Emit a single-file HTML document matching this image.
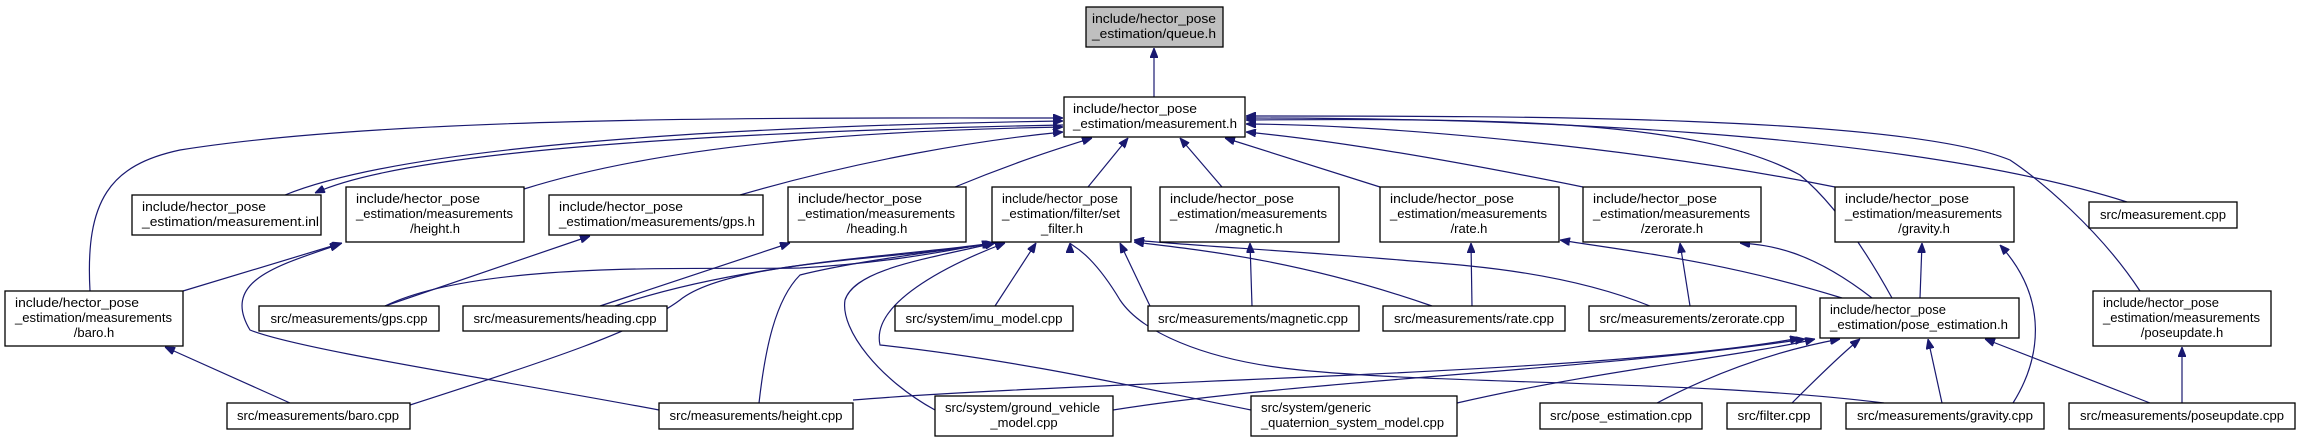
<!DOCTYPE html>
<html><head><meta charset="utf-8"><style>
html,body{margin:0;padding:0;background:#fff}
svg{display:block}
text{font-family:"Liberation Sans",sans-serif;font-size:13px;fill:#000}
.n{fill:#fff;stroke:#000;stroke-width:1.3}
.e{fill:none;stroke:#191970;stroke-width:1.2;marker-end:url(#a)}
</style></head><body>
<svg width="2301" height="443" viewBox="0 0 2301 443" xmlns="http://www.w3.org/2000/svg">
<defs><marker id="a" viewBox="0 0 10 8" refX="10" refY="4" markerWidth="10" markerHeight="8" markerUnits="userSpaceOnUse" orient="auto"><path d="M0,0L10,4L0,8z" fill="#191970" stroke="#191970"/></marker></defs>

<path class="e" d="M1154,97 L1154,48"/>
<path class="e" d="M90,291 C85,200 110,165 180,150 C400,115 800,118 1063,118"/>
<path class="e" d="M285,195 C420,140 800,125 1063,121"/>
<path class="e" d="M1063,125 C800,130 420,145 315,193"/>
<path class="e" d="M524,189 C680,140 900,130 1063,127"/>
<path class="e" d="M740,195 C860,160 980,140 1063,132"/>
<path class="e" d="M955,187 C1020,160 1070,145 1092,138"/>
<path class="e" d="M1088,187 L1128,138"/>
<path class="e" d="M1222,187 L1180,138"/>
<path class="e" d="M1380,187 L1225,138"/>
<path class="e" d="M1583,187 C1450,160 1330,140 1246,132"/>
<path class="e" d="M1835,187 C1650,150 1400,125 1246,124"/>
<path class="e" d="M2127,202 C1900,130 1500,118 1246,118"/>
<path class="e" d="M1892,298 C1860,240 1830,200 1800,175 C1700,120 1500,118 1246,120"/>
<path class="e" d="M2140,291 C2100,230 2040,180 2010,160 C1900,115 1500,116 1246,116"/>

<path class="e" d="M385,306 C480,260 700,270 800,268 C900,262 960,248 992,243"/>
<path class="e" d="M615,306 C750,260 920,255 992,243"/>
<path class="e" d="M410,405 C550,360 640,330 680,300 C730,260 900,260 993,243"/>
<path class="e" d="M759,403 C765,350 775,300 800,275 C860,260 950,250 995,243"/>
<path class="e" d="M935,410 C880,380 840,330 845,300 C855,270 920,260 995,243"/>
<path class="e" d="M995,306 L1036,243"/>
<path class="e" d="M1150,306 L1120,243"/>
<path class="e" d="M1432,306 C1300,260 1200,250 1134,242"/>
<path class="e" d="M1650,306 C1560,270 1460,265 1400,260 C1280,250 1180,245 1134,240"/>
<path class="e" d="M1251,410 C1150,390 1020,360 880,345 C870,300 960,260 1005,243"/>
<path class="e" d="M1884,403 C1700,380 1450,385 1300,370 C1200,360 1140,330 1120,300 C1090,250 1070,245 1070,243"/>

<path class="e" d="M183,291 L342,243"/>
<path class="e" d="M659,410 C500,380 300,350 250,330 C220,280 280,265 340,244"/>
<path class="e" d="M385,306 L590,236"/>
<path class="e" d="M600,306 L790,243"/>
<path class="e" d="M1252,306 L1250,243"/>
<path class="e" d="M1472,306 L1471,243"/>
<path class="e" d="M1690,306 L1680,243"/>
<path class="e" d="M1872,298 C1810,250 1770,245 1740,243"/>
<path class="e" d="M1842,298 C1720,260 1620,250 1560,240"/>
<path class="e" d="M1920,298 L1922,243"/>
<path class="e" d="M2013,403 C2040,360 2050,300 2000,245"/>
<path class="e" d="M2182,403 L2182,347"/>
<path class="e" d="M290,403 L165,347"/>

<path class="e" d="M853,400 C1100,380 1600,375 1800,338"/>
<path class="e" d="M1113,410 C1300,380 1600,370 1805,339"/>
<path class="e" d="M1457,403 C1600,370 1750,355 1815,339"/>
<path class="e" d="M1657,403 C1720,370 1780,350 1840,339"/>
<path class="e" d="M1792,403 C1810,385 1840,355 1860,339"/>
<path class="e" d="M1942,403 L1928,339"/>
<path class="e" d="M2150,403 L1985,339"/>

<rect x="1086" y="7" width="137" height="40" fill="#bfbfbf" stroke="#000" stroke-width="1.3"/>
<text x="1092" y="23" textLength="124" lengthAdjust="spacingAndGlyphs">include/hector_pose</text>
<text x="1092" y="38" textLength="124" lengthAdjust="spacingAndGlyphs">_estimation/queue.h</text>

<rect class="n" x="1064" y="97" width="181" height="40"/>
<text x="1073" y="113" textLength="124" lengthAdjust="spacingAndGlyphs">include/hector_pose</text>
<text x="1073" y="128" textLength="164" lengthAdjust="spacingAndGlyphs">_estimation/measurement.h</text>

<rect class="n" x="132" y="195" width="189" height="40"/>
<text x="142" y="211" textLength="124" lengthAdjust="spacingAndGlyphs">include/hector_pose</text>
<text x="142" y="226" textLength="177" lengthAdjust="spacingAndGlyphs">_estimation/measurement.inl</text>

<rect class="n" x="346" y="187" width="178" height="55"/>
<text x="356" y="203" textLength="124" lengthAdjust="spacingAndGlyphs">include/hector_pose</text>
<text x="356" y="218" textLength="157" lengthAdjust="spacingAndGlyphs">_estimation/measurements</text>
<text x="435" y="233" text-anchor="middle">/height.h</text>

<rect class="n" x="549" y="195" width="214" height="40"/>
<text x="559" y="211" textLength="124" lengthAdjust="spacingAndGlyphs">include/hector_pose</text>
<text x="559" y="226" textLength="196" lengthAdjust="spacingAndGlyphs">_estimation/measurements/gps.h</text>

<rect class="n" x="788" y="187" width="178" height="55"/>
<text x="798" y="203" textLength="124" lengthAdjust="spacingAndGlyphs">include/hector_pose</text>
<text x="798" y="218" textLength="157" lengthAdjust="spacingAndGlyphs">_estimation/measurements</text>
<text x="877" y="233" text-anchor="middle">/heading.h</text>

<rect class="n" x="992" y="187" width="139" height="55"/>
<text x="1002" y="203" textLength="116" lengthAdjust="spacingAndGlyphs">include/hector_pose</text>
<text x="1002" y="218" textLength="118" lengthAdjust="spacingAndGlyphs">_estimation/filter/set</text>
<text x="1062" y="233" text-anchor="middle">_filter.h</text>

<rect class="n" x="1160" y="187" width="179" height="55"/>
<text x="1170" y="203" textLength="124" lengthAdjust="spacingAndGlyphs">include/hector_pose</text>
<text x="1170" y="218" textLength="157" lengthAdjust="spacingAndGlyphs">_estimation/measurements</text>
<text x="1249" y="233" text-anchor="middle">/magnetic.h</text>

<rect class="n" x="1380" y="187" width="179" height="55"/>
<text x="1390" y="203" textLength="124" lengthAdjust="spacingAndGlyphs">include/hector_pose</text>
<text x="1390" y="218" textLength="157" lengthAdjust="spacingAndGlyphs">_estimation/measurements</text>
<text x="1469" y="233" text-anchor="middle">/rate.h</text>

<rect class="n" x="1583" y="187" width="178" height="55"/>
<text x="1593" y="203" textLength="124" lengthAdjust="spacingAndGlyphs">include/hector_pose</text>
<text x="1593" y="218" textLength="157" lengthAdjust="spacingAndGlyphs">_estimation/measurements</text>
<text x="1672" y="233" text-anchor="middle">/zerorate.h</text>

<rect class="n" x="1835" y="187" width="179" height="55"/>
<text x="1845" y="203" textLength="124" lengthAdjust="spacingAndGlyphs">include/hector_pose</text>
<text x="1845" y="218" textLength="157" lengthAdjust="spacingAndGlyphs">_estimation/measurements</text>
<text x="1924" y="233" text-anchor="middle">/gravity.h</text>

<rect class="n" x="2089" y="202" width="148" height="26"/>
<text x="2163" y="219" text-anchor="middle" textLength="126" lengthAdjust="spacingAndGlyphs">src/measurement.cpp</text>

<rect class="n" x="5" y="291" width="178" height="55"/>
<text x="15" y="307" textLength="124" lengthAdjust="spacingAndGlyphs">include/hector_pose</text>
<text x="15" y="322" textLength="157" lengthAdjust="spacingAndGlyphs">_estimation/measurements</text>
<text x="94" y="337" text-anchor="middle">/baro.h</text>

<rect class="n" x="259" y="306" width="180" height="25"/>
<text x="349" y="323" text-anchor="middle" textLength="157" lengthAdjust="spacingAndGlyphs">src/measurements/gps.cpp</text>
<rect class="n" x="463" y="306" width="204" height="25"/>
<text x="565" y="323" text-anchor="middle" textLength="183" lengthAdjust="spacingAndGlyphs">src/measurements/heading.cpp</text>
<rect class="n" x="895" y="306" width="178" height="25"/>
<text x="984" y="323" text-anchor="middle" textLength="157" lengthAdjust="spacingAndGlyphs">src/system/imu_model.cpp</text>
<rect class="n" x="1148" y="306" width="211" height="25"/>
<text x="1253" y="323" text-anchor="middle" textLength="190" lengthAdjust="spacingAndGlyphs">src/measurements/magnetic.cpp</text>
<rect class="n" x="1383" y="306" width="182" height="25"/>
<text x="1474" y="323" text-anchor="middle" textLength="160" lengthAdjust="spacingAndGlyphs">src/measurements/rate.cpp</text>
<rect class="n" x="1589" y="306" width="207" height="25"/>
<text x="1692" y="323" text-anchor="middle" textLength="185" lengthAdjust="spacingAndGlyphs">src/measurements/zerorate.cpp</text>

<rect class="n" x="1820" y="298" width="199" height="40"/>
<text x="1830" y="314" textLength="116" lengthAdjust="spacingAndGlyphs">include/hector_pose</text>
<text x="1830" y="329" textLength="178" lengthAdjust="spacingAndGlyphs">_estimation/pose_estimation.h</text>

<rect class="n" x="2093" y="291" width="178" height="55"/>
<text x="2103" y="307" textLength="116" lengthAdjust="spacingAndGlyphs">include/hector_pose</text>
<text x="2103" y="322" textLength="157" lengthAdjust="spacingAndGlyphs">_estimation/measurements</text>
<text x="2182" y="337" text-anchor="middle">/poseupdate.h</text>

<rect class="n" x="227" y="403" width="183" height="26"/>
<text x="318" y="420" text-anchor="middle" textLength="162" lengthAdjust="spacingAndGlyphs">src/measurements/baro.cpp</text>
<rect class="n" x="659" y="403" width="194" height="26"/>
<text x="756" y="420" text-anchor="middle" textLength="173" lengthAdjust="spacingAndGlyphs">src/measurements/height.cpp</text>

<rect class="n" x="935" y="396" width="178" height="40"/>
<text x="945" y="412" textLength="155" lengthAdjust="spacingAndGlyphs">src/system/ground_vehicle</text>
<text x="1024" y="427" text-anchor="middle">_model.cpp</text>

<rect class="n" x="1251" y="396" width="206" height="40"/>
<text x="1261" y="412" textLength="110" lengthAdjust="spacingAndGlyphs">src/system/generic</text>
<text x="1261" y="427" textLength="183" lengthAdjust="spacingAndGlyphs">_quaternion_system_model.cpp</text>

<rect class="n" x="1540" y="403" width="162" height="26"/>
<text x="1621" y="420" text-anchor="middle" textLength="142" lengthAdjust="spacingAndGlyphs">src/pose_estimation.cpp</text>
<rect class="n" x="1727" y="403" width="94" height="26"/>
<text x="1774" y="420" text-anchor="middle" textLength="73" lengthAdjust="spacingAndGlyphs">src/filter.cpp</text>
<rect class="n" x="1846" y="403" width="198" height="26"/>
<text x="1945" y="420" text-anchor="middle" textLength="176" lengthAdjust="spacingAndGlyphs">src/measurements/gravity.cpp</text>
<rect class="n" x="2069" y="403" width="226" height="26"/>
<text x="2182" y="420" text-anchor="middle" textLength="204" lengthAdjust="spacingAndGlyphs">src/measurements/poseupdate.cpp</text>
</svg>
</body></html>
